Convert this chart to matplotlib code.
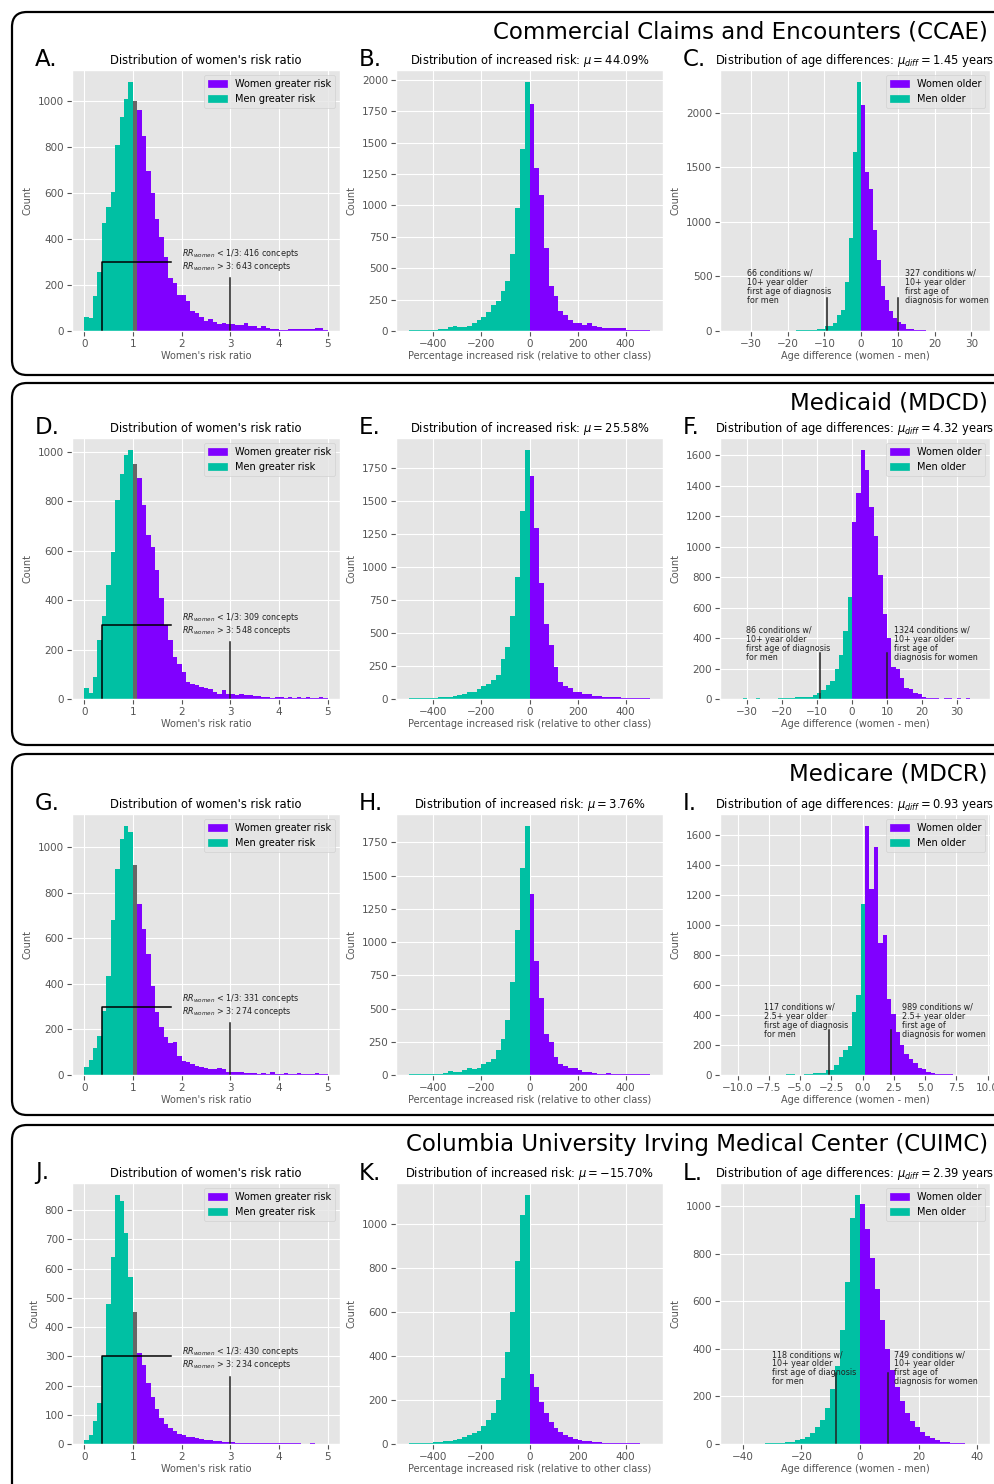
import numpy as np
import matplotlib.pyplot as plt
from matplotlib.patches import FancyBboxPatch, Patch
from matplotlib.transforms import IdentityTransform
from matplotlib.ticker import MultipleLocator

plt.style.use('ggplot')

# --- datos ---
row_titles = ['Commercial Claims and Encounters (CCAE)', 'Medicaid (MDCD)',
              'Medicare (MDCR)', 'Columbia University Irving Medical Center (CUIMC)']
letters = [['A.', 'B.', 'C.'], ['D.', 'E.', 'F.'], ['G.', 'H.', 'I.'], ['J.', 'K.', 'L.']]

pct_mean = [44.09, 25.58, 3.76, -15.70]
age_mean = [1.45, 4.32, 0.93, 2.39]
rr_low = [416, 309, 331, 430]
rr_high = [643, 548, 274, 234]
cond_men = [66, 86, 117, 118]
cond_women = [327, 1324, 989, 749]
age_cut = ['10+', '10+', '2.5+', '10+']

# risk ratio: bins de 0 a 5 (55 bins)
rr_start, rr_width = 0.0, 5 / 55
ccae_rr_men = [60, 55, 150, 255, 470, 540, 605, 810, 930, 1010, 1080]
ccae_rr_mid = [1000]
ccae_rr_women = [961, 849, 695, 601, 486, 410, 320, 230, 210, 155, 155, 130, 85, 80, 62,
                 45, 50, 40, 30, 35, 30, 30, 25, 25, 35, 20, 20, 15, 20, 12, 10, 8, 3, 3,
                 10, 10, 10, 8, 8, 8, 12, 12, 5]
mdcd_rr_men = [45, 25, 90, 240, 335, 460, 595, 805, 910, 985, 1005]
mdcd_rr_mid = [950]
mdcd_rr_women = [895, 785, 665, 615, 520, 410, 300, 240, 170, 140, 110, 70, 60, 55, 50,
                 45, 40, 30, 20, 35, 20, 20, 18, 20, 15, 15, 12, 12, 10, 10, 5, 8, 10, 5,
                 8, 5, 8, 5, 8, 5, 5, 8, 5]
mdcr_rr_men = [35, 65, 120, 170, 280, 435, 680, 905, 1035, 1090, 1065]
mdcr_rr_mid = [920]
mdcr_rr_women = [750, 640, 530, 390, 275, 210, 165, 140, 145, 85, 60, 55, 50, 40, 35,
                 30, 25, 25, 30, 25, 15, 15, 15, 15, 10, 8, 10, 5, 8, 5, 12, 5, 5, 10,
                 5, 5, 8, 5, 5, 5, 8, 5, 5]
cuimc_rr_men = [15, 30, 80, 140, 300, 480, 640, 850, 830, 720, 570]
cuimc_rr_mid = [450]
cuimc_rr_women = [310, 270, 210, 160, 120, 90, 70, 55, 45, 35, 30, 25, 25, 20, 18, 15,
                  12, 10, 10, 8, 8, 6, 5, 5, 5, 4, 4, 3, 3, 3, 3, 2, 2, 2, 2, 2, 2, 1,
                  1, 2, 1, 1, 1]

# porcentaje de riesgo: bins de -500 a 500 (ancho 20)
pct_start, pct_width = -500, 20
ccae_pct_men = [5, 5, 5, 5, 10, 10, 15, 15, 30, 40, 35, 30, 40, 65, 85, 110, 150, 210,
                240, 320, 400, 610, 980, 1450, 1980]
ccae_pct_women = [1810, 1300, 1080, 660, 360, 280, 160, 130, 90, 65, 65, 45, 65, 40, 35,
                  20, 20, 20, 20, 25, 10, 5, 5, 5, 10]
mdcd_pct_men = [5, 5, 5, 5, 5, 10, 12, 15, 15, 20, 30, 40, 55, 55, 75, 95, 115, 145,
                180, 300, 395, 625, 920, 1420, 1880]
mdcd_pct_women = [1690, 1290, 880, 570, 410, 240, 130, 100, 80, 55, 50, 40, 35, 25, 20,
                  15, 15, 15, 12, 10, 10, 10, 8, 5, 8]
mdcr_pct_men = [5, 5, 5, 5, 8, 10, 10, 15, 30, 25, 25, 35, 50, 45, 55, 85, 95, 120, 190,
                270, 415, 700, 1090, 1560, 1870]
mdcr_pct_women = [1365, 860, 580, 310, 250, 135, 80, 70, 55, 50, 35, 25, 20, 15, 8, 5,
                  15, 10, 5, 10, 8, 5, 5, 5, 5]
cuimc_pct_men = [3, 3, 5, 5, 5, 8, 10, 12, 15, 20, 25, 30, 40, 50, 60, 80, 110, 140, 200,
                 300, 420, 600, 830, 1040, 1130]
cuimc_pct_women = [320, 260, 190, 140, 100, 75, 55, 40, 30, 22, 18, 15, 12, 10, 8, 6, 5,
                   5, 4, 3, 3, 3, 3, 2, 2]

# diferencia de edad: cada base tiene su propio bin
ccae_age_bins = (-33.0, 1.1)
ccae_age_men = [0, 0, 0, 0, 0, 0, 0, 0, 0, 0, 0, 0, 3, 3, 5, 5, 8, 10, 12, 15, 20, 50,
                45, 75, 150, 195, 450, 850, 1640, 2280]
ccae_age_women = [2070, 1460, 1300, 930, 650, 410, 280, 180, 120, 80, 60, 20, 15, 10, 5,
                  5, 3, 3, 0, 3, 3, 0, 3, 3, 0, 3, 3, 0, 3, 0]
mdcd_age_bins = (-35.0, 1.25)
mdcd_age_men = [0, 0, 0, 5, 0, 0, 5, 0, 0, 3, 3, 5, 5, 5, 8, 10, 10, 12, 15, 25, 40, 60,
                90, 120, 195, 290, 445, 670]
mdcd_age_women = [1160, 1350, 1630, 1500, 1260, 1070, 810, 560, 400, 210, 200, 140, 75,
                  65, 40, 30, 10, 8, 8, 5, 3, 5, 5, 0, 5, 0, 5, 0, 0]
mdcr_age_bins = (-6.1, 0.35)
mdcr_age_men = [5, 5, 0, 0, 5, 5, 15, 15, 15, 35, 35, 70, 120, 170, 195, 420, 535, 1145]
mdcr_age_women = [1660, 1240, 1525, 880, 935, 505, 410, 290, 200, 140, 105, 80, 45, 40,
                  20, 15, 8, 8, 5, 5, 3, 3, 0]
cuimc_age_bins = (-42.5, 1.7)
cuimc_age_men = [0, 0, 1, 1, 2, 2, 3, 3, 5, 5, 8, 10, 15, 20, 30, 45, 70, 100, 150, 230,
                 330, 480, 680, 950, 1045]
cuimc_age_women = [1010, 905, 780, 650, 520, 400, 310, 240, 180, 130, 95, 70, 50, 35, 25,
                   15, 10, 8, 5, 3, 3, 2, 2, 1, 0]

rr_data = [(ccae_rr_men, ccae_rr_mid, ccae_rr_women), (mdcd_rr_men, mdcd_rr_mid, mdcd_rr_women),
           (mdcr_rr_men, mdcr_rr_mid, mdcr_rr_women), (cuimc_rr_men, cuimc_rr_mid, cuimc_rr_women)]
pct_data = [(ccae_pct_men, ccae_pct_women), (mdcd_pct_men, mdcd_pct_women),
            (mdcr_pct_men, mdcr_pct_women), (cuimc_pct_men, cuimc_pct_women)]
age_data = [(ccae_age_bins, ccae_age_men, ccae_age_women), (mdcd_age_bins, mdcd_age_men, mdcd_age_women),
            (mdcr_age_bins, mdcr_age_men, mdcr_age_women), (cuimc_age_bins, cuimc_age_men, cuimc_age_women)]

# --- estilo y posiciones (en pixeles) ---
PURPLE = '#8000FF'
TEAL = '#00C0A3'
GRAY = '#666666'
W, H = 995, 1484

age_xlim = [(-38.4, 35.1), (-37.8, 39.5), (-11.4, 10.2), (-47.8, 44.4)]
age_lines = [(-9.3, 10.0), (-9.3, 9.9), (-2.67, 2.24), (-8.2, 9.6)]
age_text_x = [(-31, 12), (-30.3, 11.9), (-7.9, 3.15), (-30, 11.6)]
rr_step = [200, 200, 200, 100]
pct_step = [250, 250, 250, 200]
age_step = [500, 200, 200, 200]
age_xstep = [10, 10, 2.5, 20]

col_x = [(72, 340), (396, 663), (720, 990)]
row_top = [70, 438, 814, 1183]
ax_h = 261
box_top = [12, 383, 754, 1125]
box_bot = [375, 745, 1115, 1520]

fig = plt.figure(figsize=(W / 100, H / 100), dpi=100)


def add_ax(x0, x1, top):
    return fig.add_axes([x0 / W, 1 - (top + ax_h) / H, (x1 - x0) / W, ax_h / H])


def style_ax(ax, xlabel):
    ax.set_xlabel(xlabel, fontsize=7, labelpad=2)
    ax.set_ylabel('Count', fontsize=7)
    ax.tick_params(labelsize=7.5, pad=2)


for r in range(4):
    # marco de la fila
    box = FancyBboxPatch((12, H - box_bot[r]), 1010, box_bot[r] - box_top[r],
                         boxstyle='round,pad=0,rounding_size=15', transform=IdentityTransform(),
                         facecolor='none', edgecolor='black', linewidth=1.6)
    fig.add_artist(box)
    fig.text(988 / W, 1 - (box_top[r] + 20) / H, row_titles[r], ha='right', va='center',
             fontsize=16.5)
    for c in range(3):
        fig.text((col_x[c][0] - 37) / W, 1 - (row_top[r] - 10) / H, letters[r][c],
                 ha='left', va='center', fontsize=16.5)

    # risk ratio
    ax = add_ax(*col_x[0], row_top[r])
    men, mid, women = rr_data[r]
    edges = rr_start + rr_width * np.arange(len(men) + len(mid) + len(women) + 1)
    k1, k2 = len(men), len(men) + len(mid)
    ax.stairs(men, edges[:k1 + 1], fill=True, color=TEAL)
    ax.stairs(mid, edges[k1:k2 + 1], fill=True, color=GRAY)
    ax.stairs(women, edges[k2:], fill=True, color=PURPLE)
    ax.plot([0.36, 0.36, 1.78], [0, 300, 300], color='k', lw=1.1)
    ax.plot([3, 3], [0, 230], color='#222222', lw=1.1)
    ax.text(2.0, 250, f'$RR_{{women}}$ < 1/3: {rr_low[r]} concepts\n'
                      f'$RR_{{women}}$ > 3: {rr_high[r]} concepts',
            fontsize=5.8, va='bottom', color='#222222', linespacing=1.0)
    ax.set_xlim(-0.25, 5.25)
    ax.xaxis.set_major_locator(MultipleLocator(1))
    ax.yaxis.set_major_locator(MultipleLocator(rr_step[r]))
    ax.set_title("Distribution of women's risk ratio", fontsize=8.3, pad=4)
    ax.legend(handles=[Patch(color=PURPLE, label='Women greater risk'),
                       Patch(color=TEAL, label='Men greater risk')],
              loc='upper right', fontsize=7)
    style_ax(ax, "Women's risk ratio")

    # porcentaje
    ax = add_ax(*col_x[1], row_top[r])
    men, women = pct_data[r]
    edges = pct_start + pct_width * np.arange(len(men) + len(women) + 1)
    ax.stairs(men, edges[:len(men) + 1], fill=True, color=TEAL)
    ax.stairs(women, edges[len(men):], fill=True, color=PURPLE)
    ax.set_xlim(-555, 555)
    ax.xaxis.set_major_locator(MultipleLocator(200))
    ax.yaxis.set_major_locator(MultipleLocator(pct_step[r]))
    ax.set_title(rf'Distribution of increased risk: $\mu = {pct_mean[r]:.2f}\%$',
                 fontsize=8.3, pad=4)
    style_ax(ax, 'Percentage increased risk (relative to other class)')

    # diferencia de edad
    ax = add_ax(*col_x[2], row_top[r])
    (a0, aw), men, women = age_data[r]
    edges = a0 + aw * np.arange(len(men) + len(women) + 1)
    ax.stairs(men, edges[:len(men) + 1], fill=True, color=TEAL)
    ax.stairs(women, edges[len(men):], fill=True, color=PURPLE)
    lo, hi = age_lines[r]
    ax.plot([lo, lo], [0, 300], color='#222222', lw=1.1)
    ax.plot([hi, hi], [0, 300], color='#222222', lw=1.1)
    tlo, thi = age_text_x[r]
    ax.text(tlo, 243, f'{cond_men[r]} conditions w/\n{age_cut[r]} year older\n'
                      'first age of diagnosis\nfor men',
            fontsize=5.8, va='bottom', color='#222222', linespacing=1.0)
    ax.text(thi, 243, f'{cond_women[r]} conditions w/\n{age_cut[r]} year older\n'
                      'first age of\ndiagnosis for women',
            fontsize=5.8, va='bottom', color='#222222', linespacing=1.0)
    ax.set_xlim(*age_xlim[r])
    ax.xaxis.set_major_locator(MultipleLocator(age_xstep[r]))
    ax.yaxis.set_major_locator(MultipleLocator(age_step[r]))
    ax.set_title(rf'Distribution of age differences: $\mu_{{diff}} = {age_mean[r]:.2f}$ years',
                 fontsize=8.3, pad=4)
    ax.legend(handles=[Patch(color=PURPLE, label='Women older'),
                       Patch(color=TEAL, label='Men older')],
              loc='upper right', fontsize=7)
    style_ax(ax, 'Age difference (women - men)')

fig.savefig('out.png', dpi=100)
